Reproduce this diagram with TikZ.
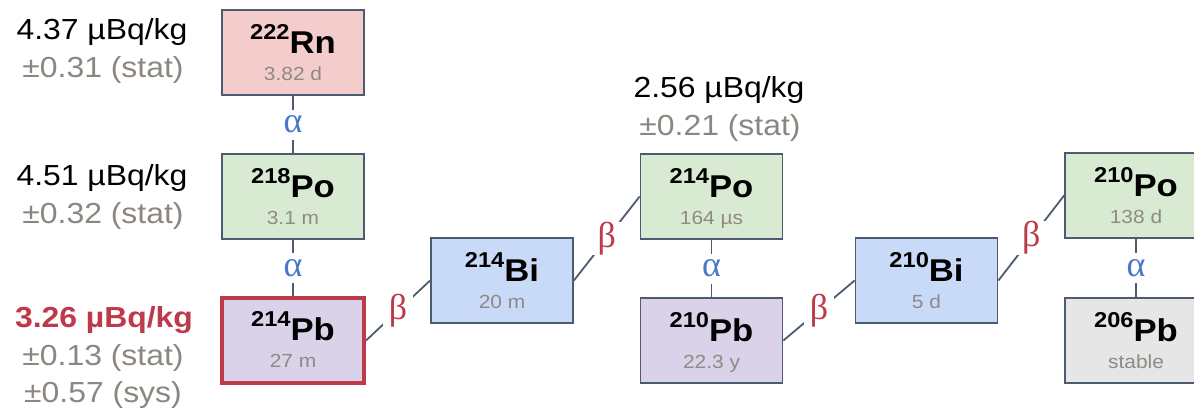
\documentclass[tikz,border=0pt]{standalone}
\usepackage{fontspec}
\setmainfont{Liberation Sans}[FakeStretch=1.1]
\newfontfamily\grkfont{Liberation Serif}
\usetikzlibrary{calc}
\definecolor{edgec}{HTML}{4D5B72}
\definecolor{rnfill}{HTML}{F4CCCC}
\definecolor{pofill}{HTML}{D9EAD3}
\definecolor{bifill}{HTML}{C9DAF8}
\definecolor{pbfill}{HTML}{D9D2E9}
\definecolor{stablefill}{HTML}{E6E6E6}
\definecolor{errgray}{HTML}{8C8680}
\definecolor{hlgray}{HTML}{8E8A85}
\definecolor{hired}{HTML}{BE3A4B}
\definecolor{alphablue}{HTML}{4A78C8}
\tikzset{
  box/.style={draw=edgec, line width=1.8pt, minimum width=142pt, minimum height=85pt, inner sep=0pt},
  conn/.style={draw=edgec, line width=1.8pt},
  alab/.style={fill=white, inner sep=0pt, minimum size=30pt, text=alphablue, font=\fontsize{36}{36}\selectfont\grkfont},
  blab/.style={fill=white, inner sep=0pt, minimum size=30pt, text=hired, font=\fontsize{36}{36}\selectfont\grkfont},
  meas/.style={anchor=base, inner sep=0pt, font=\fontsize{29}{30}\selectfont},
  err/.style={meas, text=errgray},
  elem/.style={anchor=base, inner sep=0pt, font=\fontsize{31.5}{31.5}\selectfont\bfseries},
  hl/.style={anchor=base, inner sep=0pt, text=hlgray, font=\fontsize{19}{20}\selectfont},
}
\newcommand\nuc[8]{%
  \node[box, fill=#4, #8] (#1) at (#2,#3) {};
  \node[elem] (#1-n) at ([yshift=-44pt]#1.north) {\raisebox{14pt}{\fontsize{21.5}{21.5}\selectfont #5}#6};
  \node[hl] (#1-h) at ([yshift=-71pt]#1.north) {#7};
}
\begin{document}
\begin{tikzpicture}[x=1pt,y=-1pt]
\useasboundingbox (0,0) rectangle (1194,413);
\clip (0,0) rectangle (1194,413);
\nuc{rn}{293}{52.5}{rnfill}{222}{Rn}{3.82 d}{}
\nuc{poa}{293}{196.5}{pofill}{218}{Po}{3.1 m}{}
\nuc{pba}{293}{340.5}{pbfill}{214}{Pb}{27 m}{draw=hired, line width=4pt}
\nuc{bia}{502}{280.5}{bifill}{214}{Bi}{20 m}{}
\nuc{pob}{711.5}{196.5}{pofill}{214}{Po}{164 µs}{}
\nuc{pbb}{711.5}{340.5}{pbfill}{210}{Pb}{22.3 y}{}
\nuc{bib}{926.5}{280.5}{bifill}{210}{Bi}{5 d}{}
\nuc{poc}{1136}{195.5}{pofill}{210}{Po}{138 d}{}
\nuc{pbc}{1136}{340.5}{stablefill}{206}{Pb}{stable}{}
\draw[conn] (rn.south) -- node[alab] (a1) {α} (poa.north);
\draw[conn] (poa.south) -- node[alab] (a2) {α} (pba.north);
\draw[conn] (pob.south) -- node[alab] (a3) {α} (pbb.north);
\draw[conn] (poc.south) -- node[alab] (a4) {α} (pbc.north);
\draw[conn] (pba.east) -- node[blab] (b1) {β} (bia.west);
\draw[conn] (bia.east) -- node[blab] (b2) {β} (pob.west);
\draw[conn] (pbb.east) -- node[blab] (b3) {β} (bib.west);
\draw[conn] (bib.east) -- node[blab] (b4) {β} (poc.west);
\node[meas] (rn-m) at (102,39) {4.37 µBq/kg};
\node[err] (rn-e) at (103,77) {±0.31 (stat)};
\node[meas] (poa-m) at (102,185) {4.51 µBq/kg};
\node[err] (poa-e) at (103,223) {±0.32 (stat)};
\node[meas, text=hired, font=\fontsize{29}{30}\selectfont\bfseries] (pba-m) at (104,327) {3.26 µBq/kg};
\node[err] (pba-e) at (103,365) {±0.13 (stat)};
\node[err] (pba-s) at (103,402) {±0.57 (sys)};
\node[meas] (pob-m) at (719,97) {2.56 µBq/kg};
\node[err] (pob-e) at (720,135) {±0.21 (stat)};
\end{tikzpicture}
\end{document}
